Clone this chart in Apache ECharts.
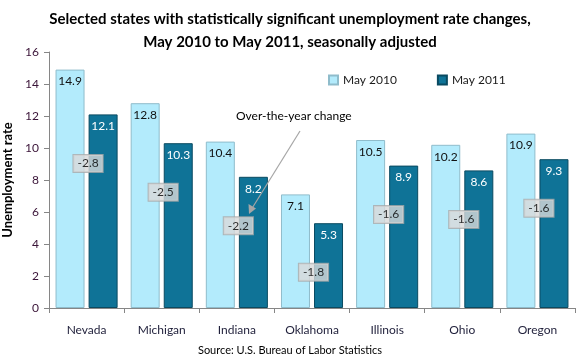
<!DOCTYPE html>
<html>
<head>
<meta charset="utf-8">
<script src="https://cdn.jsdelivr.net/npm/echarts@6/dist/echarts.min.js"></script>
<style>html,body{margin:0;padding:0;background:#fff;}#c{width:580px;height:360px;}</style>
</head>
<body>
<div id="c"></div>
<script>
var states = ['Nevada', 'Michigan', 'Indiana', 'Oklahoma', 'Illinois', 'Ohio', 'Oregon'];
var may2010 = [14.9, 12.8, 10.4, 7.1, 10.5, 10.2, 10.9];
var may2011 = [12.1, 10.3, 8.2, 5.3, 8.9, 8.6, 9.3];
var changes = [-2.8, -2.5, -2.2, -1.8, -1.6, -1.6, -1.6];
var yTicks = [0, 2, 4, 6, 8, 10, 12, 14, 16];

var FONT = 'Lato';
var chart = echarts.init(document.getElementById('c'), null, {renderer: 'canvas'});
chart.setOption({
  animation: false,
  backgroundColor: '#ffffff',
  textStyle: {fontFamily: FONT},
  title: {
    text: 'Selected states with statistically significant unemployment rate changes,\nMay 2010 to May 2011, seasonally adjusted',
    left: 'center', top: 3,
    textStyle: {fontFamily: FONT, fontWeight: 'bold', fontSize: 15, lineHeight: 23, color: '#000'}
  },
  legend: {
    top: 69, left: 323,
    itemWidth: 9, itemHeight: 9, itemGap: 40,
    icon: 'rect',
    textStyle: {fontFamily: FONT, fontSize: 12, color: '#1a1a1a'},
    data: ['May 2010', 'May 2011']
  },
  grid: {left: 49, right: 5, top: 52, bottom: 52, containLabel: false, outerBoundsMode: 'none'},
  xAxis: {
    type: 'category',
    data: states,
    axisLine: {lineStyle: {color: '#868686', width: 1}},
    axisTick: {show: true, length: 5, lineStyle: {color: '#868686'}},
    axisLabel: {fontFamily: FONT, fontSize: 12, color: '#1f1f3a', margin: 16}
  },
  yAxis: {
    type: 'value',
    min: yTicks[0], max: yTicks[yTicks.length - 1], interval: 2,
    name: 'Unemployment rate',
    nameLocation: 'middle', nameGap: 26, nameRotate: 90,
    nameTextStyle: {fontFamily: FONT, fontWeight: 'bold', fontSize: 13, color: '#000'},
    axisLine: {show: true, lineStyle: {color: '#868686', width: 1}},
    axisTick: {show: true, length: 5, lineStyle: {color: '#868686'}},
    splitLine: {show: false},
    axisLabel: {fontFamily: FONT, fontSize: 12, color: '#3a1438', margin: 10}
  },
  series: [
    {
      name: 'May 2010', type: 'bar', data: may2010,
      barWidth: 29, barGap: '14%', barCategoryGap: '16%',
      itemStyle: {color: '#b3ebfc', borderColor: '#8fbccb', borderWidth: 1},
      label: {show: true, position: 'insideTop', distance: 6, fontFamily: FONT, fontSize: 12, color: '#111'}
    },
    {
      name: 'May 2011', type: 'bar', data: may2011,
      barWidth: 29,
      itemStyle: {color: '#0f7397', borderColor: '#0a4a61', borderWidth: 1},
      label: {show: true, position: 'insideTop', distance: 6, fontFamily: FONT, fontSize: 12, color: '#fff'}
    },
    {
      name: 'change', type: 'scatter', symbolSize: 0, silent: true,
      data: may2011.map(function (v, i) { return [i, v]; }),
      label: {
        show: true, position: 'inside', offset: [1.5, 49],
        formatter: function (p) { return changes[p.dataIndex].toFixed(1); },
        fontFamily: FONT, fontSize: 12, color: '#000',
        backgroundColor: '#d9d9d9', borderColor: '#a9a9a9', borderWidth: 1,
        padding: [3, 4, 2, 4]
      },
      z: 10
    }
  ],
  graphic: [
    {
      type: 'text', left: 236, top: 110, z: 100,
      style: {text: 'Over-the-year change', fontFamily: FONT, fontSize: 12, fill: '#000'}
    },
    {
      type: 'line', z: 100, shape: {x1: 300, y1: 131, x2: 251, y2: 210},
      style: {stroke: '#a6a6a6', lineWidth: 1.2}
    },
    {
      type: 'polygon', z: 100, shape: {points: [[249, 214], [248.5, 204], [256, 208.5]]},
      style: {fill: '#a6a6a6'}
    },
    {
      type: 'text', left: 'center', top: 345, z: 100,
      style: {text: 'Source: U.S. Bureau of Labor Statistics', fontFamily: FONT, fontSize: 11, fill: '#000'}
    }
  ]
});
</script>
</body>
</html>
